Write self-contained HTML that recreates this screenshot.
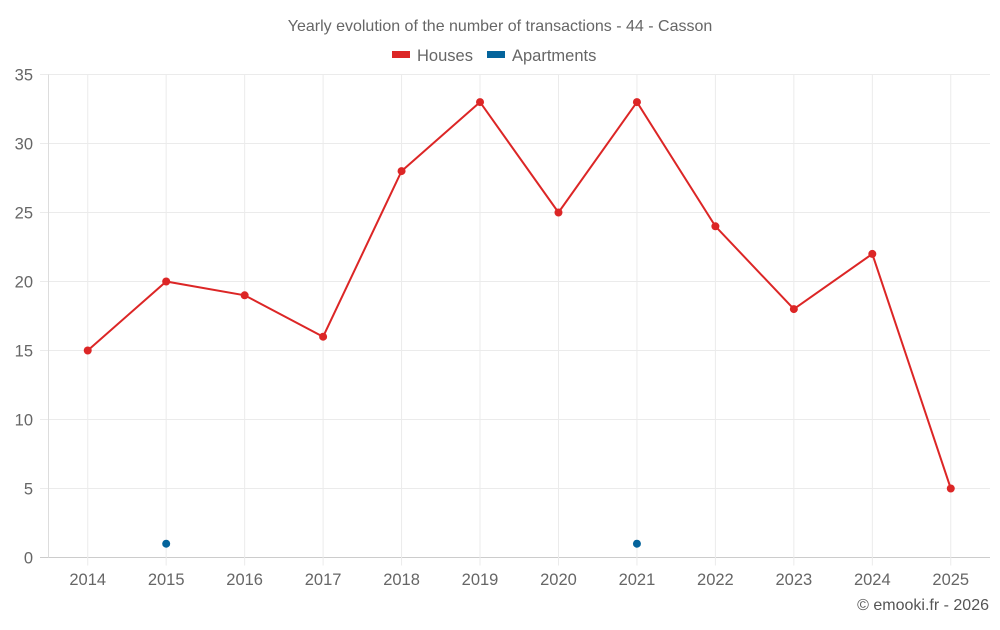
<!DOCTYPE html>
<html><head><meta charset="utf-8"><style>
body{margin:0;background:#fff;font-family:"Liberation Sans",sans-serif}
svg text{font-family:"Liberation Sans",sans-serif}
</style></head><body>
<svg id="c" width="1000" height="625">
<text x="500" y="31" text-anchor="middle" font-size="16" fill="#666">Yearly evolution of the number of transactions - 44 - Casson</text>
<g>
<rect x="392" y="51" width="18" height="7" fill="#dc2626"/>
<text x="417" y="61" font-size="16.5" fill="#666">Houses</text>
<rect x="487" y="51" width="18" height="7" fill="#04649c"/>
<text x="512" y="61" font-size="16.5" fill="#666">Apartments</text>
</g>
<g id="grid"></g><g id="axes"></g><g id="marks"></g>
<text x="989" y="610" text-anchor="end" font-size="16" fill="#555">© emooki.fr - 2026</text>
</svg>
<script>
const categories=["2014","2015","2016","2017","2018","2019","2020","2021","2022","2023","2024","2025"];
const houses=[15,20,19,16,28,33,25,33,24,18,22,5];
const apartments=[null,1,null,null,null,null,null,1,null,null,null,null];
const yTicks=[0,5,10,15,20,25,30,35];
const L=48.5,R=990,T=74.5,B=557.5,yMax=35;
const bw=(R-L)/categories.length;
const x=i=>L+bw*(i+0.5);
const y=v=>B-(v/yMax)*(B-T);
const NS="http://www.w3.org/2000/svg";
function mk(tag,attrs,parent){const e=document.createElementNS(NS,tag);for(const k in attrs)e.setAttribute(k,attrs[k]);parent.appendChild(e);return e;}
const grid=document.getElementById('grid'),axes=document.getElementById('axes'),marks=document.getElementById('marks');
yTicks.forEach(t=>{
 const l=mk('line',{x1:40,x2:R,y1:y(t),y2:y(t),stroke:t===0?'#ccc':'#ebebeb','stroke-width':1},grid);
 
 
 const tx=mk('text',{x:33,y:y(t)+6,'text-anchor':'end','font-size':16.5,fill:'#666'},axes);
 tx.textContent=t;
 
 
});
const ax=mk('line',{x1:L,x2:L,y1:T,y2:B,stroke:'#ddd','stroke-width':1},grid);


categories.forEach((c,i)=>{
 const l=mk('line',{x1:x(i),x2:x(i),y1:T,y2:B+8,stroke:'#ebebeb','stroke-width':1},grid);
 
 
 const tx=mk('text',{x:x(i),y:585,'text-anchor':'middle','font-size':16.5,fill:'#666'},axes);
 tx.textContent=c;
 
 
});
const p=mk('polyline',{points:houses.map((v,i)=>x(i)+','+y(v)).join(' '),fill:'none',stroke:'#dc2626','stroke-width':2},marks);


houses.forEach((v,i)=>{
 const c=mk('circle',{cx:x(i),cy:y(v),r:4,fill:'#dc2626'},marks);
 
 
});
apartments.forEach((v,i)=>{
 if(v===null)return;
 const c=mk('circle',{cx:x(i),cy:y(v),r:4,fill:'#04649c'},marks);
 
 
});
</script>
</body></html>
